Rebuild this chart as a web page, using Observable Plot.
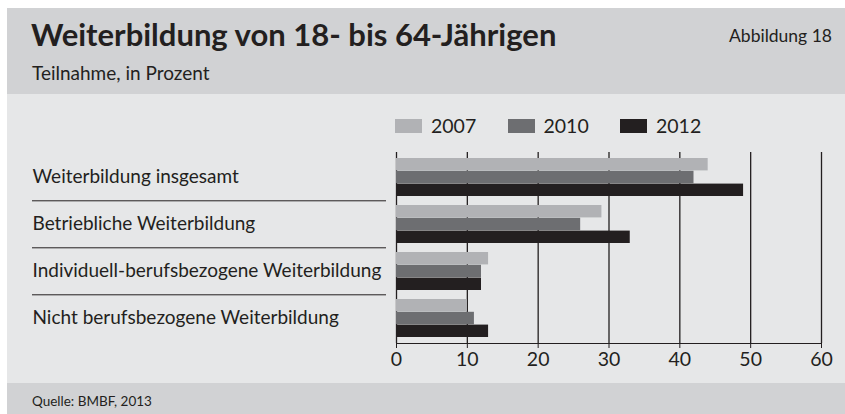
<!DOCTYPE html>
<html><head><meta charset="utf-8">
<script src="https://cdn.jsdelivr.net/npm/d3@7"></script>
<script src="https://cdn.jsdelivr.net/npm/@observablehq/plot@0.6"></script>
<style>
body{margin:0;background:#fff;font-family:Lato,sans-serif;color:#231f20;}
#wrap{position:absolute;left:7px;top:8px;width:838px;}
#head{position:relative;height:86px;background:#d1d2d4;}
#body{position:relative;height:289px;background:#e6e7e8;}
#foot{position:relative;height:31px;background:#d1d2d4;}
.t{position:absolute;line-height:1;white-space:nowrap;}
#title{left:24px;top:11px;font-size:31px;font-weight:700;}
#sub{left:25px;top:55px;font-size:19px;}
#abb{right:13px;top:19px;font-size:17.5px;}
#src{left:25px;top:12px;font-size:13.5px;}
#legend{position:absolute;left:388px;top:20px;display:flex;}
.li{display:flex;align-items:center;width:112.5px;font-size:19.5px;}
.sw{width:27px;height:14px;margin-right:9px;}
#chart{position:absolute;left:0;top:46px;}
</style></head>
<body>
<div id="wrap">
  <div id="head">
    <div class="t" id="title">Weiterbildung von 18- bis 64-Jährigen</div>
    <div class="t" id="sub">Teilnahme, in Prozent</div>
    <div class="t" id="abb">Abbildung 18</div>
  </div>
  <div id="body">
    <div id="legend"></div>
    <div id="chart"></div>
  </div>
  <div id="foot"><div class="t" id="src">Quelle: BMBF, 2013</div></div>
</div>
<script>
const categories = [
  "Weiterbildung insgesamt",
  "Betriebliche Weiterbildung",
  "Individuell-berufsbezogene Weiterbildung",
  "Nicht berufsbezogene Weiterbildung"
];
const years = ["2007", "2010", "2012"];
const values2007 = [44, 29, 13, 10];
const values2010 = [42, 26, 12, 11];
const values2012 = [49, 33, 12, 13];
const colors = ["#b1b2b5", "#6d6e71", "#231f20"];
const xTicks = [0, 10, 20, 30, 40, 50, 60];

const series = [values2007, values2010, values2012];
const data = [];
years.forEach((yr, j) => categories.forEach((c, i) => data.push({year: yr, category: c, value: series[j][i]})));

// legend
const legend = document.getElementById("legend");
years.forEach((yr, j) => {
  const it = document.createElement("div"); it.className = "li";
  const sw = document.createElement("div"); sw.className = "sw"; sw.style.background = colors[j];
  const tx = document.createElement("span"); tx.textContent = yr;
  it.append(sw, tx); legend.append(it);
});

const W = 838, H = 243, mL = 389, mR = 24, mT = 12, mB = 40;
const pInner = 0.19, pOuter = 0.11;
const step = (H - mT - mB) / (categories.length - pInner + 2 * pOuter);
const bw = step * (1 - pInner);
const th = bw / 3;
const xInv = px => (px - mL) / (W - mR - mL) * 60;

const marks = [
  Plot.ruleX(xTicks, {stroke: "#231f20", strokeWidth: 1.3})
];
years.forEach((yr, j) => {
  marks.push(Plot.barX(data.filter(d => d.year === yr), {
    x: "value", y: "category", fill: colors[j],
    insetTop: j * th, insetBottom: (2 - j) * th
  }));
});
marks.push(Plot.text(categories, {
  y: d => d, text: d => d, frameAnchor: "left", textAnchor: "start",
  dx: 25 - mL, dy: -1, fontSize: 19, fill: "#231f20"
}));
marks.push(Plot.ruleY(categories.slice(1), {
  y: d => d, dy: -step / 2, x1: xInv(25), x2: xInv(379), stroke: "#231f20", strokeWidth: 1
}));

const chart = Plot.plot({
  width: W, height: H,
  marginLeft: mL, marginRight: mR, marginTop: mT, marginBottom: mB,
  style: {background: "transparent", fontFamily: "Lato, sans-serif", fontSize: "19.5px", color: "#231f20", overflow: "visible"},
  x: {domain: [0, 60], ticks: xTicks, tickSize: 5, tickPadding: 4, line: true, label: null},
  y: {domain: categories, paddingInner: pInner, paddingOuter: pOuter, axis: null},
  marks
});
document.getElementById("chart").append(chart);
</script>
</body></html>
